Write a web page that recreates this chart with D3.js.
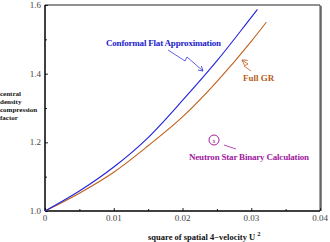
<!DOCTYPE html>
<html>
<head>
<meta charset="utf-8">
<script src="https://cdn.jsdelivr.net/npm/d3@7"></script>
<style>
  body { margin: 0; background: #fff; }
</style>
</head>
<body>
<script>
// data
const cfaX = [0, 0.005, 0.01, 0.015, 0.02, 0.025, 0.03, 0.0309];
const cfaY = [1.0, 1.058, 1.128, 1.214, 1.322, 1.437, 1.564, 1.587];
const grX = [0, 0.005, 0.01, 0.015, 0.02, 0.025, 0.03, 0.0322];
const grY = [1.0, 1.052, 1.113, 1.19, 1.274, 1.377, 1.494, 1.55];

const xTicks = [0, 0.01, 0.02, 0.03, 0.04];
const xTickLabels = ["0", "0.01", "0.02", "0.03", "0.04"];
const yTicks = [1.0, 1.2, 1.4, 1.6];
const yTickLabels = ["1.0", "1.2", "1.4", "1.6"];
const xMinor = [0.005, 0.015, 0.025, 0.035];
const yMinor = [1.1, 1.3, 1.5];

const yLabelLines = ["central", "density", "compression", "factor"];

const W = 330, H = 242;
const pLeft = 45, pRight = 320, pTop = 5, pBottom = 211;

const svg = d3.select("body").append("svg")
    .attr("width", W)
    .attr("height", H)
    .attr("font-family", "'Liberation Serif', 'Times New Roman', 'DejaVu Serif', serif");

const x = d3.scaleLinear().domain([0, 0.04]).range([pLeft, pRight]);
const y = d3.scaleLinear().domain([1.0, 1.6]).range([pBottom, pTop]);

// frame: shadow on right, thin top, thick left/bottom axes
svg.append("line")
    .attr("x1", pRight + 1).attr("x2", pRight + 1)
    .attr("y1", pTop + 1).attr("y2", pBottom)
    .attr("stroke", "#888").attr("stroke-width", 2);
svg.append("line")
    .attr("x1", pLeft).attr("x2", pRight)
    .attr("y1", pTop).attr("y2", pTop)
    .attr("stroke", "#222").attr("stroke-width", 1);
svg.append("line")
    .attr("x1", pRight).attr("x2", pRight)
    .attr("y1", pTop).attr("y2", pBottom)
    .attr("stroke", "#444").attr("stroke-width", 1);

// axes, ticks pointing inward
svg.append("g")
    .attr("transform", `translate(0,${pBottom})`)
    .call(d3.axisTop(x).tickValues(xTicks).tickSize(3).tickFormat(""));
svg.append("g")
    .attr("transform", `translate(${pLeft},0)`)
    .call(d3.axisRight(y).tickValues(yTicks).tickSize(3).tickFormat(""));
svg.append("g")
    .attr("transform", `translate(0,${pBottom})`)
    .call(d3.axisTop(x).tickValues(xMinor).tickSize(2).tickFormat(""));
svg.append("g")
    .attr("transform", `translate(${pLeft},0)`)
    .call(d3.axisRight(y).tickValues(yMinor).tickSize(2).tickFormat(""));
svg.selectAll(".domain").remove();
svg.selectAll(".tick line").attr("stroke", "#222");

svg.append("line")
    .attr("x1", pLeft).attr("x2", pRight)
    .attr("y1", pBottom).attr("y2", pBottom)
    .attr("stroke", "#000").attr("stroke-width", 1.5);
svg.append("line")
    .attr("x1", pLeft).attr("x2", pLeft)
    .attr("y1", pTop).attr("y2", pBottom)
    .attr("stroke", "#000").attr("stroke-width", 1.5);

// tick labels
svg.selectAll(".xl").data(xTicks).enter().append("text")
    .attr("x", d => x(d))
    .attr("y", pBottom + 10)
    .attr("text-anchor", "middle")
    .attr("font-size", 9)
    .attr("fill", "#444")
    .text((d, i) => xTickLabels[i]);
svg.selectAll(".yl").data(yTicks).enter().append("text")
    .attr("x", pLeft - 4)
    .attr("y", d => y(d) + 3)
    .attr("text-anchor", "end")
    .attr("font-size", 9)
    .attr("fill", "#444")
    .text((d, i) => yTickLabels[i]);

// curves
const line = d3.line().curve(d3.curveMonotoneX);
svg.append("path")
    .datum(grX.map((v, i) => [x(v), y(grY[i])]))
    .attr("d", line)
    .attr("fill", "none")
    .attr("stroke", "#c0601c")
    .attr("stroke-width", 1.1);
svg.append("path")
    .datum(cfaX.map((v, i) => [x(v), y(cfaY[i])]))
    .attr("d", line)
    .attr("fill", "none")
    .attr("stroke", "#2222dd")
    .attr("stroke-width", 1.1);

// arrow heads
const defs = svg.append("defs");
[["ab", "#3a3ae0"], ["ao", "#c0601c"]].forEach(([id, c]) => {
    defs.append("marker")
        .attr("id", id)
        .attr("orient", "auto")
        .attr("markerWidth", 6)
        .attr("markerHeight", 6)
        .attr("refX", 5)
        .attr("refY", 3)
        .attr("markerUnits", "userSpaceOnUse")
        .append("path")
        .attr("d", "M0,0 L5,3 L0,6")
        .attr("fill", "none")
        .attr("stroke", c)
        .attr("stroke-width", 0.8);
});

// annotations
svg.append("text")
    .attr("x", 106).attr("y", 46)
    .attr("font-size", 9).attr("font-weight", "bold")
    .attr("fill", "#2222cc")
    .attr("textLength", 115)
    .text("Conformal Flat Approximation");
svg.append("path")
    .attr("d", "M168,50 L185,61 L187,57 L203,71")
    .attr("fill", "none")
    .attr("stroke", "#3a3ae0")
    .attr("stroke-width", 0.8)
    .attr("marker-end", "url(#ab)");

svg.append("text")
    .attr("x", 243).attr("y", 81)
    .attr("font-size", 9).attr("font-weight", "bold")
    .attr("fill", "#b8601c")
    .text("Full GR");
svg.append("path")
    .attr("d", "M251,71 L244,66 L248,64 L242,60")
    .attr("fill", "none")
    .attr("stroke", "#c0601c")
    .attr("stroke-width", 0.8)
    .attr("marker-end", "url(#ao)");

svg.append("circle")
    .attr("cx", 214).attr("cy", 140).attr("r", 5)
    .attr("fill", "none")
    .attr("stroke", "#a020a0")
    .attr("stroke-width", 1);
svg.append("text")
    .attr("x", 214).attr("y", 142.5)
    .attr("text-anchor", "middle")
    .attr("font-size", 6)
    .attr("fill", "#a020a0")
    .text("x");
svg.append("line")
    .attr("x1", 224).attr("y1", 145)
    .attr("x2", 236).attr("y2", 149)
    .attr("stroke", "#a020a0")
    .attr("stroke-width", 0.8);
svg.append("text")
    .attr("x", 189).attr("y", 160)
    .attr("font-size", 9).attr("font-weight", "bold")
    .attr("fill", "#a020a0")
    .attr("textLength", 120)
    .text("Neutron Star Binary Calculation");

// axis titles
svg.selectAll(".ylab").data(yLabelLines).enter().append("text")
    .attr("x", 0)
    .attr("y", (d, i) => 95.5 + i * 8.2)
    .attr("font-size", 7).attr("font-weight", "bold")
    .attr("fill", "#111")
    .text(d => d);

const xt = svg.append("text")
    .attr("x", 148).attr("y", 240)
    .attr("font-size", 8.5).attr("font-weight", "bold")
    .attr("fill", "#111")
    .text("square of spatial 4\u2212velocity U ");
xt.append("tspan")
    .attr("dy", -4)
    .attr("font-size", 6.5)
    .text("2");
</script>
</body>
</html>
